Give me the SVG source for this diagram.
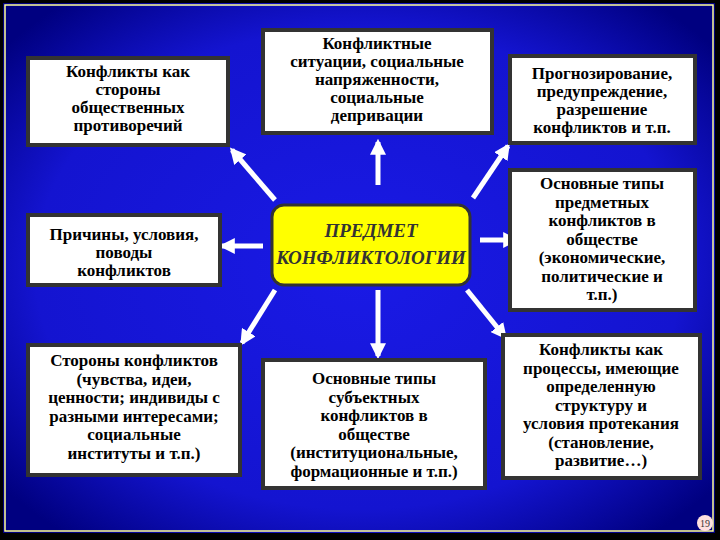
<svg xmlns="http://www.w3.org/2000/svg" width="720" height="540" viewBox="0 0 720 540">
<defs>
<radialGradient id="bg" cx="50%" cy="50%" r="65%">
<stop offset="0" stop-color="#1a1ae6"/><stop offset="0.7" stop-color="#1414d0"/><stop offset="1" stop-color="#000080"/>
</radialGradient>
<marker id="ah" viewBox="0 0 10 10" refX="8" refY="5" markerWidth="3.2" markerHeight="3.2" orient="auto"><path d="M0,0 L10,5 L0,10 Z" fill="#fff"/></marker>
</defs>
<style>
.box{fill:#fff;stroke:#333;stroke-width:4}
.t{font-family:"Liberation Serif",serif;font-weight:bold;font-size:17px;fill:#000;text-anchor:middle}
.c{stroke:#fff;stroke-width:5;marker-end:url(#ah)}
</style>
<rect width="720" height="540" fill="#000"/>
<rect x="3" y="3" width="712" height="530" fill="url(#bg)"/>
<rect x="5" y="5" width="708" height="526" fill="none" stroke="#ffff99" stroke-width="1.5"/>
<g id="connectors">
<line class="c" x1="275" y1="200" x2="232" y2="150"/>
<line class="c" x1="378" y1="185" x2="378" y2="142"/>
<line class="c" x1="473" y1="198" x2="508" y2="146"/>
<line class="c" x1="263" y1="246" x2="222" y2="246"/>
<line class="c" x1="480" y1="240" x2="516" y2="240"/>
<line class="c" x1="275" y1="290" x2="242" y2="343"/>
<line class="c" x1="378" y1="290" x2="378" y2="356"/>
<line class="c" x1="467" y1="290" x2="505" y2="337"/>
</g>
<g id="n1"><rect class="box" x="28" y="58" width="200" height="87"/>
<text class="t" y="77"><tspan x="128">Конфликты как</tspan><tspan x="128" dy="18">стороны</tspan><tspan x="128" dy="18">общественных</tspan><tspan x="128" dy="18">противоречий</tspan></text></g>
<g id="n2"><rect class="box" x="263" y="30" width="229" height="103"/>
<text class="t" y="49"><tspan x="377">Конфликтные</tspan><tspan x="377" dy="18">ситуации, социальные</tspan><tspan x="377" dy="18">напряженности,</tspan><tspan x="377" dy="18">социальные</tspan><tspan x="377" dy="18">депривации</tspan></text></g>
<g id="n3"><rect class="box" x="510" y="56" width="185" height="87"/>
<text class="t" y="79"><tspan x="602">Прогнозирование,</tspan><tspan x="602" dy="18">предупреждение,</tspan><tspan x="602" dy="18">разрешение</tspan><tspan x="602" dy="18">конфликтов и т.п.</tspan></text></g>
<g id="n4"><rect class="box" x="28" y="215" width="192" height="70"/>
<text class="t" y="240"><tspan x="124">Причины, условия,</tspan><tspan x="124" dy="18">поводы</tspan><tspan x="124" dy="18">конфликтов</tspan></text></g>
<g id="n5"><rect x="272" y="205" width="198" height="80" rx="12" fill="#ffff00" stroke="#333" stroke-width="3"/>
<text font-family="Liberation Serif,serif" font-style="italic" font-weight="bold" font-size="19" text-anchor="middle" fill="#333"><tspan x="371" y="237">ПРЕДМЕТ</tspan><tspan x="371" y="264">КОНФЛИКТОЛОГИИ</tspan></text></g>
<g id="n6"><rect class="box" x="510" y="170" width="185" height="140"/>
<text class="t" y="189"><tspan x="602">Основные типы</tspan><tspan x="602" dy="18.5">предметных</tspan><tspan x="602" dy="18.5">конфликтов в</tspan><tspan x="602" dy="18.5">обществе</tspan><tspan x="602" dy="18.5">(экономические,</tspan><tspan x="602" dy="18.5">политические и</tspan><tspan x="602" dy="18.5">т.п.)</tspan></text></g>
<g id="n7"><rect class="box" x="28" y="345" width="212" height="130"/>
<text class="t" y="366"><tspan x="134">Стороны конфликтов</tspan><tspan x="134" dy="18.5">(чувства, идеи,</tspan><tspan x="134" dy="18.5">ценности; индивиды с</tspan><tspan x="134" dy="18.5">разными интересами;</tspan><tspan x="134" dy="18.5">социальные</tspan><tspan x="134" dy="18.5">институты и т.п.)</tspan></text></g>
<g id="n8"><rect class="box" x="263" y="360" width="222" height="128"/>
<text class="t" y="384"><tspan x="374">Основные типы</tspan><tspan x="374" dy="18.5">субъектных</tspan><tspan x="374" dy="18.5">конфликтов в</tspan><tspan x="374" dy="18.5">обществе</tspan><tspan x="374" dy="18.5">(институциональные,</tspan><tspan x="374" dy="18.5">формационные и т.п.)</tspan></text></g>
<g id="n9"><rect class="box" x="503" y="335" width="197" height="143"/>
<text class="t" y="355"><tspan x="601">Конфликты как</tspan><tspan x="601" dy="18.5">процессы, имеющие</tspan><tspan x="601" dy="18.5">определенную</tspan><tspan x="601" dy="18.5">структуру  и</tspan><tspan x="601" dy="18.5">условия протекания</tspan><tspan x="601" dy="18.5">(становление,</tspan><tspan x="601" dy="18.5">развитие…)</tspan></text></g>
<g id="page"><circle cx="705" cy="523" r="8" fill="#ffe0e0"/><text x="705" y="527" font-family="Liberation Serif,serif" font-size="10" text-anchor="middle" fill="#333">19</text></g>
</svg>
